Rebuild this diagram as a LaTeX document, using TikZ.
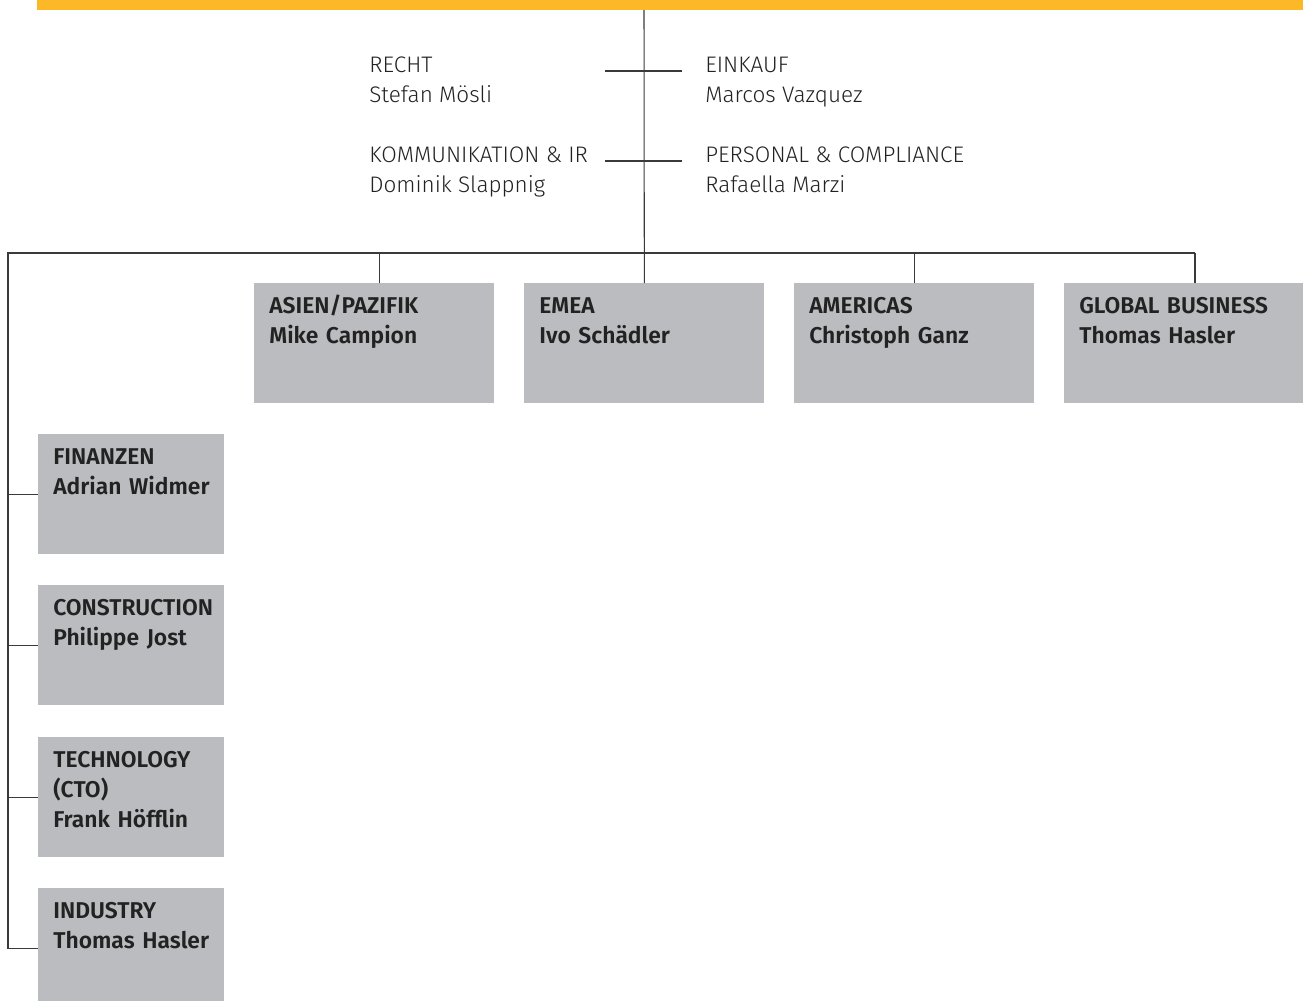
\documentclass[tikz,border=0pt]{standalone}
\usepackage{fontspec}
\setmainfont{Fira Sans}[UprightFont={* Light}, BoldFont={* SemiBold}]
\usepackage{tikz}
\usetikzlibrary{positioning}

\definecolor{baryellow}{HTML}{FDB827}
\definecolor{boxgrey}{HTML}{BBBCC0}
\definecolor{linegrey}{HTML}{3A3A3A}
\definecolor{textdark}{HTML}{222222}

\newcommand\unitfont{\fontsize{13}{17}\selectfont\bfseries\hyphenpenalty 10000\relax}

\tikzset{
  staff/.style={anchor=base west, align=left, inner sep=0pt, text=textdark,
    font=\fontsize{12.8}{17}\selectfont},
  unit/.style={fill=boxgrey, anchor=north west, inner xsep=0.3cm, inner ysep=0pt,
    text width=4.2cm, text height=0.6cm, text depth=1.8cm, align=left, text=textdark,
    font=\unitfont},
  sideunit/.style={unit, text width=3.12cm},
  link/.style={draw=linegrey, line width=0.6pt}
}

\begin{document}
\begin{tikzpicture}[x=0.02cm,y=-0.02cm]
  \useasboundingbox (0,0) rectangle (1303,1001);

  % top bar
  \fill[baryellow] (37,0) rectangle (1303,10);
  \coordinate (top) at (644,10);

  % staff (anchored on the name line)
  \node[staff] (recht)    at (369,102) {RECHT\\Stefan Mösli};
  \node[staff] (komm)     at (369,192) {KOMMUNIKATION \& IR\\Dominik Slappnig};
  \node[staff] (einkauf)  at (705,102) {EINKAUF\\Marcos Vazquez};
  \node[staff] (personal) at (705,192) {PERSONAL \& COMPLIANCE\\Rafaella Marzi};

  % regions
  \node[unit] (asien)    at (254,283)  {ASIEN/PAZIFIK\\Mike~Campion};
  \node[unit] (emea)     at (524,283)  {EMEA\\Ivo~Schädler};
  \node[unit] (americas) at (794,283)  {AMERICAS\\Christoph~Ganz};
  \node[unit] (global)   at (1064,283) {GLOBAL BUSINESS\\Thomas~Hasler};

  % functions
  \node[sideunit] (finanzen)     at (38,434) {FINANZEN\\Adrian~Widmer};
  \node[sideunit] (construction) at (38,585) {CONSTRUCTION\\Philippe~Jost};
  \node[sideunit] (technology)   at (38,737) {TECHNOLOGY\\(CTO)\\Frank~Höfflin};
  \node[sideunit] (industry)     at (38,888) {INDUSTRY\\Thomas~Hasler};

  \coordinate (hl) at (8,253);
  \coordinate (hr) at (1195,253);
  \coordinate (s1l) at (605,71);
  \coordinate (s1r) at (682,71);
  \coordinate (s2l) at (605,161);
  \coordinate (s2r) at (682,161);

  \draw[link] (top) -- (emea.north);
  \draw[link] (s1l) -- (s1r);
  \draw[link] (s2l) -- (s2r);
  \draw[link] (hr) -- (hl) |- (industry.west);
  \draw[link] (hr) -- (hr |- global.north);
  \draw[link] ([xshift=0.1cm]asien.north) -- ([xshift=0.1cm]asien.north |- hl);
  \draw[link] (americas.north) -- (americas.north |- hl);
  \foreach \u in {finanzen,construction,technology}
    \draw[link] (\u.west -| hl) -- (\u.west);
\end{tikzpicture}
\end{document}
